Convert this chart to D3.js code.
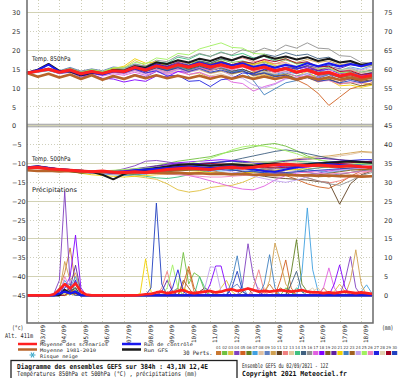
<!DOCTYPE html>
<html>
<head>
<meta charset="utf-8">
<script src="https://cdn.jsdelivr.net/npm/d3@7"></script>
<style>
  body { margin: 0; background: #fff; }
  svg { display: block; }
</style>
</head>
<body>
<svg id="chart" width="400" height="378"></svg>
<script>
// ---- data (12h steps for temperatures, 6h steps for precipitation) ----
var dateLabels = ['03/09','04/09','05/09','06/09','07/09','08/09','09/09','10/09',
  '11/09','12/09','13/09','14/09','15/09','16/09','17/09','18/09'];

var memberColors = ['#c87832','#70c040','#e0c040','#8040c0','#d06020','#608020','#40a0e0','#e0c0a0',
  '#6080c0','#d0a050','#604020','#f08080','#e0c8a0','#40c080','#406080','#909090','#e060e0','#8000ff',
  '#806020','#6020a0','#f0d000','#4080c0','#a06020','#c0a0f0','#a0f060','#f080c0','#2020e0','#e0d0b0',
  '#a00020','#2040c0'];

var t850Mean = [14.0,14.5,15.0,14.2,14.8,13.8,14.4,13.9,14.6,14.4,15.5, 14.8,15.9,15.3,16.2,15.6,16.4,15.6,16.2,15.4,16.0,15.0, 15.6,14.6,15.2,14.2,14.8,13.8,14.2,13.2,13.8,12.9,13.4];
var t850Clim = [14.0,13.0,13.8,12.8,13.6,12.4,13.4,12.2,13.2,12.4,13.4, 12.6,13.4,12.6,13.3,12.6,13.3,12.5,13.2,12.5,13.2,12.4, 13.1,12.4,13.0,12.3,13.0,12.3,12.9,12.2,12.8,12.2,12.8];
var t850Ctrl = [14.0,14.8,16.2,14.4,14.6,13.6,14.2,13.6,14.4,14.4,15.6, 15.0,16.2,15.6,16.4,15.8,16.8,16.0,16.8,16.0,16.6,15.6, 16.2,15.4,16.2,15.6,16.6,15.8,16.6,15.8,16.4,15.8,16.6];
var t850Gfs = [14.0,14.9,16.4,14.6,14.4,13.4,14.0,13.8,14.8,14.6,15.8, 15.4,16.8,16.4,17.4,16.8,17.8,17.2,18.2,17.4,18.4,17.6, 18.6,17.8,18.4,17.6,18.2,17.2,17.8,16.8,17.2,16.2,16.6];
var t850Members = [
  [14.1,14.6,15.2,14.0,14.6,13.5,14.1,13.5,14.8,14.9,16.2, 15.4,16.8,15.8,16.9,15.5,16.0,14.8,15.2,14.0,14.6,13.2, 13.8,12.6,13.0,12.0,12.8,11.6,12.4,11.5,12.6,12.0,12.8],
  [14.0,14.4,14.9,14.5,15.3,14.2,14.9,14.2,15.2,14.8,15.9, 15.5,16.8,16.2,17.4,16.5,17.2,16.6,17.6,16.8,17.2,16.4, 16.8,15.9,16.3,15.2,15.8,14.6,15.0,14.0,14.4,13.5,13.6],
  [13.9,14.3,14.7,14.1,14.6,13.9,14.5,14.1,15.0,15.4,17.3, 16.0,16.4,15.0,15.4,13.6,14.0,12.6,13.0,12.4,13.2,12.8, 13.5,13.0,13.8,13.2,14.4,13.6,14.2,13.0,13.4,11.4,11.0],
  [14.2,14.4,14.8,13.8,14.2,12.9,13.4,12.2,12.8,12.6,13.6, 13.0,14.4,14.0,15.0,14.6,15.6,15.4,16.6,16.0,16.9,15.9, 16.4,15.0,15.4,14.0,14.6,13.4,13.6,12.0,12.4,11.6,12.0],
  [14.0,14.5,15.1,14.4,15.2,14.2,14.6,14.0,14.8,14.2,15.0, 14.2,15.2,14.7,15.6,15.0,16.0,15.4,16.4,15.4,16.0,14.4, 14.8,13.2,13.4,12.2,10.8,8.6,5.4,7.6,9.8,10.6,11.4],
  [14.1,14.5,15.0,14.3,15.1,14.0,14.6,14.2,15.0,14.6,15.6, 15.0,16.2,15.6,16.6,16.0,17.0,16.4,17.2,16.2,16.8,15.8, 16.4,15.6,16.2,15.2,15.8,14.8,15.4,14.6,15.0,14.2,14.8],
  [13.8,14.2,14.6,13.9,14.4,13.4,14.0,13.4,14.2,13.8,14.8, 14.0,15.0,14.4,15.4,14.8,15.8,15.0,15.6,14.4,15.0,13.8, 14.4,13.6,14.4,13.8,14.8,14.2,15.2,14.6,15.6,15.0,16.0],
  [14.0,14.4,15.0,14.2,14.9,13.8,14.4,13.6,14.2,13.8,14.6, 13.8,14.6,13.8,14.6,13.6,14.2,13.2,13.8,12.8,13.4,12.4, 13.0,12.2,13.0,12.4,13.4,12.8,13.8,13.2,14.0,13.4,14.2],
  [14.2,14.7,15.3,14.6,15.5,14.5,15.1,14.6,15.6,15.3,16.4, 15.8,17.0,16.4,17.2,16.2,16.6,15.4,15.8,14.6,15.0,13.8, 14.2,13.4,14.0,13.2,13.8,13.0,13.6,12.8,13.4,12.6,13.2],
  [14.0,14.6,15.1,14.2,14.8,13.6,14.2,13.6,14.4,14.2,15.4, 14.8,16.0,15.2,16.2,15.4,16.4,15.8,16.8,16.0,16.8,16.2, 17.0,16.4,17.4,16.8,17.6,16.8,17.2,16.2,16.6,15.6,16.0],
  [14.1,14.5,15.0,14.1,14.7,13.7,14.3,13.8,14.5,14.1,15.1, 14.4,15.6,14.8,15.8,15.0,15.8,14.8,15.4,14.4,15.0,14.0, 14.8,14.2,15.0,14.4,15.2,14.2,14.4,12.8,12.4,11.8,12.2],
  [13.9,14.4,14.9,14.2,14.9,13.9,14.5,13.9,14.6,14.4,15.6, 15.0,16.4,15.8,17.0,16.6,17.8,17.2,18.2,17.4,18.0,17.0, 17.4,16.4,16.8,15.6,16.0,15.0,15.4,14.4,14.8,14.0,14.6],
  [14.0,14.5,15.0,14.3,14.9,13.8,14.3,13.7,14.3,13.9,14.9, 14.2,15.2,14.4,15.2,14.2,14.8,13.8,14.4,13.6,14.4,13.6, 14.4,13.8,14.8,14.2,15.2,14.6,15.4,14.8,15.4,14.6,15.0],
  [14.2,14.6,15.1,14.4,15.1,14.1,14.7,14.1,14.9,14.7,15.8, 15.4,17.0,16.6,18.2,17.6,19.0,18.4,19.6,18.6,19.2,18.0, 18.4,17.2,17.6,16.4,16.8,15.6,16.0,14.8,15.2,14.2,14.6],
  [14.0,14.4,14.9,14.3,14.9,14.0,14.6,14.0,14.8,14.4,15.4, 14.8,16.0,15.4,16.6,16.0,17.2,16.6,17.8,17.2,18.4,17.8, 19.0,18.4,19.4,18.6,19.0,17.8,18.2,16.8,17.0,15.8,16.2],
  [14.1,14.6,15.2,14.5,15.3,14.4,15.0,14.4,15.3,15.0,16.2, 15.8,17.4,17.0,18.6,18.0,19.2,18.4,19.4,18.8,20.2,19.4, 20.6,19.8,21.4,20.6,22.0,20.6,20.4,18.6,18.4,16.8,16.6],
  [13.9,14.3,14.8,14.0,14.5,13.4,13.9,13.2,13.8,13.4,14.2, 13.4,14.4,13.6,14.4,13.6,14.2,13.0,13.2,11.6,11.2,9.2, 10.4,11.2,12.6,12.4,13.4,12.8,13.6,13.0,13.8,13.2,14.0],
  [14.0,14.5,14.9,14.0,14.4,13.2,13.6,12.6,12.4,11.6,12.2, 11.8,13.2,13.0,14.4,14.2,15.4,15.0,16.2,15.6,16.4,15.6, 16.2,15.4,16.0,15.0,15.6,14.6,15.0,13.8,14.2,13.4,13.8],
  [14.1,14.5,15.0,14.2,14.8,13.7,14.2,13.6,14.3,14.0,15.1, 14.4,15.4,14.6,15.4,14.4,15.0,14.0,14.6,13.8,14.4,13.6, 14.0,13.2,13.6,12.6,13.0,12.0,12.4,11.2,11.4,10.6,11.0],
  [14.0,14.6,15.2,14.4,15.0,14.0,14.6,14.0,14.8,14.6,15.8, 15.2,16.4,15.8,16.8,16.0,16.8,15.8,16.4,15.4,16.2,15.2, 15.8,14.8,15.4,14.4,15.2,14.6,15.6,15.2,16.2,15.8,16.8],
  [14.0,14.4,14.9,14.1,14.7,13.7,14.4,14.0,15.2,15.8,17.8, 16.6,17.0,15.6,16.0,14.6,15.2,14.6,15.8,15.4,16.8,16.2, 17.2,16.0,16.2,14.6,14.4,12.4,12.2,10.6,10.8,10.2,10.8],
  [14.1,14.5,14.9,14.2,14.8,13.8,14.4,13.8,14.6,14.3,15.3, 14.6,15.6,14.8,15.8,14.8,15.6,14.6,15.4,14.2,14.8,12.0, 8.2,9.8,11.4,12.0,13.0,12.6,13.6,13.2,14.0,13.6,14.2],
  [14.0,14.5,15.0,14.3,15.0,14.0,14.6,14.0,14.7,14.4,15.4, 14.8,15.8,15.0,16.0,15.2,16.0,15.2,16.0,15.2,15.8,14.8, 15.4,14.4,15.0,14.0,14.6,13.4,13.8,12.8,13.2,12.4,12.8],
  [14.0,14.4,14.8,14.0,14.6,13.6,14.2,13.6,14.2,13.8,14.6, 13.8,14.8,14.0,15.0,14.2,15.0,14.2,14.8,13.2,12.6,10.8, 10.0,11.0,12.4,12.8,14.0,13.8,14.8,14.4,15.2,14.8,15.6],
  [14.1,14.6,15.1,14.4,15.2,14.2,14.9,14.4,15.4,15.4,16.8, 16.4,18.0,17.6,19.2,18.8,20.4,21.2,22.0,20.8,20.6,19.2, 19.0,17.6,17.8,16.4,16.6,15.2,15.4,14.0,14.2,13.0,13.4],
  [14.0,14.5,15.0,14.2,14.8,13.8,14.3,13.6,14.2,13.8,14.8, 14.0,15.0,14.2,15.2,14.4,15.4,14.6,15.6,14.8,15.6,14.6, 15.2,14.0,14.4,13.0,13.2,11.8,12.0,11.0,11.6,11.2,12.0],
  [14.1,14.5,15.0,14.3,14.9,13.9,14.4,13.8,14.5,14.0,15.0, 14.0,14.6,13.2,13.4,11.8,12.0,10.4,12.2,12.6,14.0,13.8, 15.0,14.6,15.6,15.0,16.0,15.4,16.2,15.6,16.4,15.8,16.6],
  [14.0,14.4,15.0,14.2,14.9,13.9,14.5,14.0,14.8,14.5,15.6, 15.0,16.2,15.6,16.6,15.8,16.6,15.8,16.6,15.8,16.6,15.8, 16.6,15.8,16.6,15.8,16.4,15.4,15.8,14.8,15.0,14.2,14.4],
  [14.0,14.5,15.0,14.2,14.8,13.8,14.4,13.8,14.6,14.2,15.2, 14.6,15.8,15.2,16.4,15.8,16.8,16.2,17.0,16.2,17.0,16.6, 17.6,17.0,17.8,16.6,17.0,15.6,15.8,14.4,14.6,13.6,14.0],
  [14.1,14.6,15.1,14.3,15.0,14.0,14.5,13.9,14.6,14.2,15.2, 14.4,15.4,14.6,15.4,14.4,15.2,14.2,14.8,14.0,14.6,13.4, 14.0,13.0,13.4,12.4,12.8,11.8,12.2,11.4,12.0,11.4,12.0]
];

var t500Mean = [-11.2,-11.0,-11.4,-11.6,-11.8,-12.0,-12.2,-12.0,-12.3,-12.4,-12.2, -12.4,-12.0,-11.6,-11.4,-11.2,-11.4,-11.6,-11.2,-11.0,-11.3,-11.0, -10.6,-10.4,-10.2,-10.4,-10.6,-10.4,-10.6,-10.8,-10.6,-10.9,-11.0];
var t500Clim = [-11.8,-12.0,-11.9,-12.1,-12.0,-12.2,-12.1,-12.3,-12.2,-12.4,-12.3, -12.5,-12.4,-12.6,-12.5,-12.7,-12.6,-12.8,-12.7,-12.9,-12.8,-13.0, -12.9,-13.1,-13.0,-13.2,-13.1,-13.3,-13.2,-13.4,-13.3,-13.5,-13.4];
var t500Ctrl = [-11.0,-10.8,-11.2,-11.6,-11.8,-12.2,-12.0,-12.2,-12.4,-12.2,-11.8, -11.6,-11.4,-11.2,-11.0,-10.8,-11.0,-11.2,-11.0,-10.8,-11.2,-11.6, -12.0,-12.2,-11.6,-11.0,-10.6,-10.4,-10.2,-10.4,-10.6,-10.8,-11.0];
var t500Gfs = [-11.0,-10.8,-11.2,-11.6,-12.0,-12.4,-12.2,-13.0,-14.2,-12.8,-12.0, -11.6,-11.2,-10.8,-10.4,-10.2,-10.4,-10.6,-10.4,-10.2,-10.4,-10.6, -10.2,-10.0,-10.2,-10.4,-10.2,-10.0,-9.8,-9.6,-9.4,-9.6,-9.8];
var t500Members = [
  [-11.0,-10.8,-11.2,-11.6,-11.8,-12.2,-12.4,-12.0,-12.6,-12.8,-12.4, -12.6,-12.0,-11.4,-11.0,-10.8,-11.2,-11.8,-12.4,-12.8,-12.6,-12.2, -11.6,-11.0,-10.8,-11.4,-12.2,-13.0,-13.6,-13.0,-12.4,-11.8,-11.4],
  [-11.2,-11.2,-11.6,-11.4,-11.6,-11.8,-12.0,-12.2,-12.0,-12.2,-11.8, -11.4,-10.6,-10.0,-9.4,-9.0,-8.6,-8.2,-7.4,-6.8,-6.2,-5.6, -5.0,-4.7,-5.4,-6.6,-8.0,-9.0,-9.6,-10.2,-10.6,-11.0,-11.2],
  [-11.4,-11.0,-11.4,-11.8,-12.0,-12.2,-12.4,-12.6,-12.8,-13.0,-13.4, -13.8,-14.2,-15.4,-17.0,-17.6,-17.2,-16.4,-16.0,-15.8,-15.0,-13.8, -12.6,-11.8,-11.2,-11.0,-10.8,-10.6,-10.8,-11.0,-11.2,-11.0,-10.8],
  [-11.0,-10.6,-11.0,-11.4,-11.6,-12.0,-12.4,-12.2,-12.0,-11.4,-10.6, -9.4,-9.2,-9.6,-10.0,-10.4,-10.2,-10.0,-9.8,-10.2,-10.8,-11.4, -12.0,-12.4,-12.8,-13.2,-13.0,-12.6,-12.0,-11.6,-11.2,-11.0,-10.6],
  [-11.2,-11.2,-11.4,-11.8,-12.0,-12.4,-12.6,-12.4,-12.6,-12.6,-12.4, -12.2,-12.0,-12.0,-11.8,-11.8,-11.6,-11.2,-10.8,-10.4,-10.2,-10.6, -11.2,-12.2,-13.2,-14.2,-15.4,-16.2,-16.6,-15.2,-13.4,-12.0,-11.0],
  [-11.0,-11.0,-11.4,-11.6,-11.8,-11.8,-12.0,-12.2,-12.4,-12.4,-12.2, -12.0,-11.6,-11.2,-10.8,-10.6,-10.6,-10.4,-10.2,-10.0,-9.8,-9.6, -9.6,-9.8,-10.0,-10.2,-10.4,-10.2,-10.0,-9.8,-9.6,-9.8,-10.0],
  [-11.2,-11.0,-11.6,-11.8,-12.2,-12.4,-12.6,-12.8,-13.0,-13.2,-13.0, -12.8,-12.4,-12.0,-11.6,-11.4,-11.6,-11.8,-12.0,-11.8,-11.4,-11.0, -10.6,-10.4,-10.6,-11.0,-11.6,-12.0,-12.4,-12.0,-11.6,-11.2,-11.0],
  [-11.0,-11.2,-11.4,-11.6,-11.8,-12.0,-12.0,-12.0,-12.2,-12.2,-12.0, -11.8,-11.6,-11.4,-11.2,-11.2,-11.0,-10.8,-10.6,-10.4,-10.2,-10.0, -9.8,-9.6,-9.4,-9.2,-9.0,-8.8,-8.4,-8.0,-7.6,-7.0,-7.2],
  [-11.2,-11.0,-11.4,-11.8,-12.0,-12.2,-12.2,-12.4,-12.6,-12.6,-12.2, -11.8,-11.4,-11.2,-11.2,-11.4,-11.8,-12.2,-12.6,-12.6,-12.2,-11.8, -11.4,-11.2,-11.4,-11.8,-12.4,-12.8,-13.2,-12.8,-12.4,-12.0,-11.6],
  [-11.4,-11.2,-11.6,-11.8,-12.0,-12.2,-12.4,-12.4,-12.2,-12.0,-11.8, -11.6,-11.2,-10.8,-10.4,-10.2,-10.0,-9.8,-9.6,-9.4,-9.4,-9.6, -9.8,-9.6,-9.2,-8.8,-8.4,-8.2,-8.0,-7.6,-7.2,-6.8,-7.0],
  [-11.0,-11.0,-11.4,-11.6,-11.8,-12.0,-12.2,-12.4,-12.6,-12.6,-12.4, -12.2,-12.0,-11.8,-11.6,-11.4,-11.2,-11.0,-11.2,-11.6,-12.2,-13.0, -13.4,-13.8,-14.0,-14.2,-14.4,-14.8,-15.0,-20.8,-15.4,-13.0,-12.0],
  [-11.2,-11.4,-11.6,-11.8,-12.0,-12.2,-12.4,-12.6,-12.8,-12.8,-12.6, -12.4,-12.0,-11.6,-11.2,-10.8,-10.6,-10.4,-10.2,-10.2,-10.4,-10.8, -11.2,-11.8,-12.4,-13.0,-13.8,-14.6,-15.2,-14.6,-13.6,-12.6,-12.0],
  [-11.0,-11.2,-11.2,-11.4,-11.6,-11.8,-12.0,-12.2,-12.2,-12.2,-12.0, -11.8,-11.8,-11.6,-11.6,-11.4,-11.4,-11.2,-11.2,-11.0,-10.8,-10.6, -10.4,-10.2,-10.0,-9.8,-9.6,-9.8,-10.0,-10.2,-10.4,-10.2,-10.0],
  [-11.2,-11.0,-11.4,-11.6,-11.8,-12.0,-12.2,-12.2,-12.4,-12.6,-13.0, -13.4,-13.8,-14.0,-13.6,-13.0,-12.4,-11.8,-11.4,-11.0,-10.6,-10.2, -9.8,-9.4,-9.2,-9.4,-9.6,-9.8,-10.0,-10.2,-10.4,-10.2,-10.2],
  [-11.0,-11.2,-11.4,-11.6,-11.8,-12.0,-12.0,-12.2,-12.4,-12.4,-12.2, -12.0,-11.8,-11.6,-11.2,-10.8,-10.4,-10.0,-9.6,-9.2,-8.6,-8.0, -7.4,-6.8,-6.4,-6.8,-7.4,-8.0,-8.6,-9.0,-9.4,-9.6,-9.8],
  [-11.2,-11.0,-11.4,-11.8,-12.0,-12.2,-12.4,-12.6,-12.6,-12.4,-12.2, -12.0,-11.8,-11.6,-11.4,-11.2,-11.0,-10.8,-10.6,-10.6,-10.8,-11.0, -11.4,-11.8,-12.4,-13.0,-13.8,-14.6,-15.4,-15.8,-14.6,-13.2,-12.4],
  [-11.0,-11.0,-11.2,-11.4,-11.8,-12.0,-12.2,-12.4,-12.4,-12.4,-12.2, -12.0,-12.0,-12.2,-12.6,-13.2,-13.8,-14.6,-15.4,-16.2,-16.8,-17.0, -16.0,-14.4,-13.2,-12.6,-12.2,-12.0,-11.8,-11.6,-11.4,-11.2,-11.0],
  [-11.2,-11.2,-11.4,-11.6,-11.8,-12.0,-12.2,-12.2,-12.2,-12.0,-11.6, -11.2,-10.8,-10.2,-9.8,-9.6,-9.4,-9.2,-9.0,-9.2,-9.4,-9.8, -10.2,-10.6,-11.0,-11.2,-11.0,-10.6,-10.2,-10.0,-9.8,-9.6,-9.4],
  [-11.0,-11.2,-11.4,-11.6,-11.8,-12.0,-12.2,-12.4,-12.6,-12.8,-12.8, -12.6,-12.4,-12.2,-12.0,-11.8,-11.8,-11.6,-11.4,-11.2,-11.2,-11.4, -11.8,-12.2,-12.6,-13.0,-13.2,-13.0,-12.6,-12.2,-11.8,-11.6,-11.4],
  [-11.2,-11.0,-11.2,-11.4,-11.6,-11.8,-12.0,-12.2,-12.0,-11.8,-11.4, -11.0,-10.6,-10.4,-10.2,-10.0,-10.0,-10.2,-10.4,-10.6,-10.8,-10.6, -10.2,-9.8,-9.4,-9.0,-8.8,-8.6,-8.8,-9.0,-9.2,-9.4,-9.6],
  [-11.4,-11.2,-11.4,-11.8,-12.2,-12.6,-13.0,-13.2,-13.4,-13.6,-13.4, -13.2,-13.0,-12.8,-12.6,-12.4,-12.2,-12.4,-12.6,-12.8,-12.6,-12.4, -12.2,-12.0,-11.8,-11.6,-11.4,-11.2,-11.0,-10.8,-10.6,-10.8,-11.0],
  [-11.0,-11.2,-11.4,-11.6,-11.8,-12.0,-12.2,-12.4,-12.4,-12.4,-12.2, -12.0,-11.8,-11.4,-11.0,-10.6,-10.4,-10.2,-10.4,-10.8,-11.2,-12.0, -12.6,-13.0,-12.8,-12.2,-11.6,-11.2,-10.8,-10.6,-10.4,-10.2,-10.0],
  [-11.2,-11.2,-11.4,-11.6,-11.8,-12.0,-12.0,-12.2,-12.4,-12.4,-12.4, -12.2,-12.2,-12.0,-11.8,-11.6,-11.4,-11.2,-11.0,-10.8,-10.6,-10.4, -10.2,-10.0,-10.2,-10.4,-10.6,-10.8,-11.0,-11.2,-11.4,-11.6,-11.8],
  [-11.0,-11.0,-11.2,-11.6,-12.0,-12.2,-12.4,-12.6,-12.8,-12.6,-12.2, -11.8,-11.4,-11.0,-10.8,-10.6,-10.8,-11.2,-11.6,-12.2,-12.8,-13.4, -14.0,-14.6,-15.0,-14.4,-13.6,-12.8,-12.2,-11.8,-11.4,-11.2,-11.0],
  [-11.2,-11.0,-11.4,-11.6,-11.8,-12.0,-12.2,-12.0,-11.8,-11.6,-11.4, -11.2,-11.0,-10.8,-10.4,-10.0,-9.4,-8.6,-7.6,-6.4,-5.6,-5.2, -5.4,-6.0,-6.6,-7.4,-8.4,-9.0,-9.4,-9.6,-9.8,-10.0,-10.2],
  [-11.0,-11.2,-11.4,-11.6,-11.8,-12.0,-12.2,-12.2,-12.4,-12.4,-12.6, -12.6,-12.8,-12.8,-13.0,-13.2,-13.4,-13.6,-13.6,-13.4,-13.2,-13.0, -12.8,-12.6,-12.4,-12.2,-12.4,-12.6,-12.8,-12.6,-12.4,-12.2,-12.0],
  [-11.2,-11.0,-11.4,-11.6,-11.8,-12.0,-12.2,-12.4,-12.6,-12.4,-12.0, -11.6,-11.2,-10.8,-10.4,-10.2,-10.0,-9.8,-9.6,-9.4,-9.6,-9.8, -10.0,-10.2,-10.4,-10.2,-10.0,-9.8,-9.6,-9.4,-9.2,-9.0,-9.0],
  [-11.0,-11.2,-11.4,-11.6,-11.8,-12.0,-12.2,-12.2,-12.2,-12.2,-12.0, -11.8,-11.6,-11.4,-11.2,-11.0,-10.8,-10.6,-10.4,-10.2,-10.0,-9.8, -9.6,-9.6,-9.8,-10.0,-10.2,-10.4,-10.6,-10.8,-11.0,-11.0,-11.0],
  [-11.2,-11.2,-11.4,-11.6,-11.8,-12.0,-12.2,-12.4,-12.4,-12.2,-12.0, -11.8,-11.6,-11.2,-10.8,-10.4,-10.2,-10.0,-10.2,-10.4,-10.6,-10.8, -11.0,-11.2,-11.0,-10.8,-10.6,-10.4,-10.2,-10.0,-9.8,-9.6,-9.4],
  [-11.0,-11.0,-11.2,-11.4,-11.6,-11.8,-12.0,-12.2,-12.4,-12.4,-12.2, -12.0,-11.8,-11.6,-11.4,-11.2,-11.2,-11.4,-11.6,-11.8,-12.0,-12.2, -12.4,-12.6,-12.4,-12.2,-12.0,-11.8,-11.6,-11.4,-11.2,-11.0,-11.0]
];

// precipitation in mm per 6h, 65 steps
var precipMean = [0,0,0,0,0,0.3,1.5,3.0,1.8,3.2,1.0,0.2,0, 0,0,0,0,0,0,0,0,0.1,0.3,0.4,0.8,1.0, 0.6,0.8,1.2,1.4,0.8,0.6,0.8,1.0,1.2,0.8,1.0,1.4,1.6, 1.2,1.4,1.8,1.4,1.0,1.2,1.0,1.2,1.4,1.2,1.0,1.2,1.4, 1.0,0.8,0.8,0.6,0.8,0.6,0.8,1.0,0.8,0.6,0.8,0.6,0.4];
var precipCtrl = [0,0,0,0,0,0,0.5,1,0.5,1,0,0,0, 0,0,0,0,0,0,0,0,0,0,0,0,0, 0,0,0,0,0,0,0,0,0,0,0,0,0, 0,0,0,0,0,0,0,0,0,0,0,0,0, 0,0,0,0,0,0,0,0,0,0,0,0,0];
var precipGfs = [0,0,0,0,0,0,0,1.5,0.5,1,0,0,0, 0,0,0,0,0,0,0,0,0,0,0,0,0, 0,0,0,0,0,0,0,0,0,0,0,0,0, 0,0,0,0,0,0,0,0,0,0,0,0,0, 0,0,0,0,0,0,0,0,0,0,0,0,0];
var precipMembers = [
  [0,0,0,0,0,0,2,6,12.6,3,0.5,0,0, 0,0,0,0,0,0,0,0,0,0,0,0,0, 0,0,0,0,6.8,1,0,0,0,0,0,0,0, 0,0,0,0,0,1,3,1,0,0,0,0,0, 0,0,0,2,0.5,0,0,0,0,0,0,0,0],
  [0,0,0,0,0,0,0,1,2,1,0,0,0, 0,0,0,0,0,0,0,0,0,0,0,0,0, 0,0,2,11.4,3,6,5,1,0,0,0,0,0, 0,0,0,0,0,0,0,0,0,2,1,0,0, 0,0,0,0,0,0,0,0,0,0,0,0,0],
  [0,0,0,0,0,0,0,0.5,1,0,0,0,0, 0,0,0,0,0,0,0,0,0,0,0,0,0, 0,0,0,0,0,0,0,0,0,0,2,4,1, 0,0,0,0,0,0,0,0,0,0,0,0,0, 0,0,0,0,0,1,3,1,0,0,0,0,0],
  [0,0,0,0,0,0.5,4,27.6,3,1,0,0,0, 0,0,0,0,0,0,0,0,0,0,0,0,0, 0,0,0,0,0,0,0,0,0,0,0,0,0, 0,3,13.7,5,1,0,0,0,0,0,0,0,0, 0,0,0,0,0,0,0,4,10.3,2,0,0,0],
  [0,0,0,0,0,0,0,1,2,0,0,0,0, 0,0,0,0,0,0,0,0,0,0,0,0,0, 0,0,0,3,7.7,2,0,0,0,0,0,0,0, 0,0,0,0,0,0,0,0,4,9.4,2,0,0, 0,0,0,0,0,0,0,0,0,0,0,0,0],
  [0,0,0,0,0,0,0,0,1,2,0,0,0, 0,0,0,0,0,0,0,0,0,0,0,0,0, 0,0,0,0,0,0,0,0,0,0,0,0,0, 0,0,0,0,0,0,0,0,0,0,6,14.8,3, 1,0,0,0,0,0,0,0,0,0,0,0,0],
  [0,0,0,0,0,0,1,4,2,5,1,0,0, 0,0,0,0,0,0,0,0,0,0,0,0,0, 0,0,0,0,0,0,0,0,0,0,0,0,0, 0,0,0,0,0,0,0,0,0,0,0,0,6, 23.2,6.8,1,0,0,0,0,0,0,0,1,2.8,0.5],
  [0,0,0,0,0,0,0,1,1.5,0,0,0,0, 0,0,0,0,0,0,0,0,0,0,0,0,0, 0,0,0,0,0,0,0,0,0,0,0,0,0, 0,0,0,0,0,2,1,0,0,0,0,0,0, 0,0,0,0,0,0,0,0,0,0,0,0,0],
  [0,0,0,0,0,0,2,3,3,2,0,0,0, 0,0,0,0,0,0,0,0,0,0,0,0,0, 0,0,0,0,0,0,0,0,0,0,0,0,2, 3,1,0,0,0,0,0,0,0,0,0,0,0, 0,0,0,0,0,0,0,0,0,0,0,0,0],
  [0,0,0,0,0,0,1,9,4,6,1,0,0, 0,0,0,0,0,0,0,0,0,0,0,0,0, 0,0,0,0,0,0,0,0,0,0,0,0,0, 0,0,0,0,0,0,4,13.9,8.7,3,1,0,0, 0,0,0,0,0,0,0,0,4,12.1,3,0,0],
  [0,0,0,0,0,0,0,1.5,1,2,0,0,0, 0,0,0,0,0,0,0,0,0,0,0,0,0, 0,0,0,0,0,0,1,2,1,0,0,0,0, 0,0,0,0,0,0,0,0,0,0,0,0,0, 0,0,0,0,0,0,0,0,0,0,0,0,0],
  [0,0,0,0,0,0,0,0,1,1,0,0,0, 0,0,0,0,0,0,0,0,0,0,0,0,2, 6.4,1,0,0,0,0,0,0,0,0,0,0,0, 0,0,0,2,6.8,1,0,0,0,0,0,0,0, 0,0,0,0,0,0,0,0,0,0,0,0,0],
  [0,0,0,0,0,0,0,3,2,3,0,0,0, 0,0,0,0,0,0,0,0,0,0,0,0,0, 0,0,0,0,0,0,0,0,0,0,0,0,0, 0,0,0,0,0,0,0,0,0,0,0,0,0, 0,1,2,0,0,0,0,0,0,0,0,0,0],
  [0,0,0,0,0,0,0,2,3,1.5,0,0,0, 0,0,0,0,0,0,0,0,0,0,0,0,0, 0,0,0,0,0,0,5,2,0,0,0,0,0, 0,0,0,0,0,0,0,0,0,0,0,2,1, 0,0,0,0,0,0,0,0,0,0,0,0,0],
  [0,0,0,0,0,0,0,0,1,0,0,0,0, 0,0,0,0,0,0,0,0,0,0,0,0,0, 0,0,0,0,0,0,0,0,0,0,0,0,0, 0,0,0,0,0,0,0,0,0,0,3,6.4,1, 0,0,0,0,0,0,0,0,0,0,0,0,0],
  [0,0,0,0,0,0,0,0,0.5,0,0,0,0, 0,0,0,0,0,0,0,0,0,0,0,0,0, 0,1,2,0,0,0,0,0,0,0,0,0,0, 0,0,0,0,0,0,0,0,0,0,0,0,0, 0,0,0,0,0,0,0,0,0,0,0,0,0],
  [0,0,0,0,0,0,0,1,0.5,0,0,0,0, 0,0,0,0,0,0,0,0,0,0,0,0,0, 0,0,0,0,0,0,0,0,0,0,0,0,0, 0,0,0,0,0,0,0,0,0,0,0,0,0, 0,0,0,2,7.3,2,0,0,0,0,0,0,0],
  [0,0,0,0,0,0,0,2,5,16,2,0,0, 0,0,0,0,0,0,0,0,0,0,0,0,0, 0,0,0,0,0,0,0,0,3,7.8,7.8,2,0, 0,0,0,0,0,0,0,0,0,0,0,0,0, 0,0,0,0,0,3,8.1,2,0,0,0,0,0],
  [0,0,0,0,0,0,0,0,1,0.5,0,0,0, 0,0,0,0,0,0,0,0,0,0,0,0,0, 0,0,0,0,0,0,0,0,0,0,0,0,0, 0,1,2,0,0,0,0,0,0,0,0,0,0, 0,0,0,0,0,0,0,0,0,0,0,0,0],
  [0,0,0,0,0,0,1,3,2,8,1,0,0, 0,0,0,0,0,0,0,0,0,0,0,0,1, 4,1,0,0,0,0,0,0,0,0,0,0,0, 0,0,0,0,0,0,0,0,0,0,0,0,0, 0,0,0,0,0,0,0,0,0,0,0,0,0],
  [0,0,0,0,0,0,0,0,0.5,0,0,0,0, 0,0,0,0,0,0,0,0,0.5,9.7,1,0,0, 0,0,0,2,1,0,0,0,0,0,0,0,0, 0,0,0,0,0,0,0,0,0,0,0,0,0, 0,0,0,0,0,0,0,0,0,0,0,0,0],
  [0,0,0,0,0,0,0,1,1,0,0,0,0, 0,0,0,0,0,0,0,0,0,0,0,0,0, 0,0,0,0,0,0,0,0,0,0,0,0,4, 10.5,2,0,0,0,3,10.8,2,0,0,0,0,0, 0,0,0,0,0,0,0,0,0,0,0,0,0],
  [0,0,0,0,0,0,0,0,1.5,1,0,0,0, 0,0,0,0,0,0,0,0,0,0,0,0,0, 0,0,0,4,2,0,0,0,0,0,0,0,0, 0,0,0,0,0,0,0,0,2,1,0,0,0, 0,0,0,0,0,0,0,0,0,0,0,0,0],
  [0,0,0,0,0,0,0,1,1,0,0,0,0, 0,0,0,0,0,0,0,0,0,0,0,0,0, 0,0,0,0,0,0,0,2,7.6,7.4,1,0,0, 0,0,0,0,0,0,0,0,0,0,0,0,0, 0,0,0,0,0,0,0,0,0,0,0,0,0],
  [0,0,0,0,0,0,0,0,1,0,0,0,0, 0,0,0,0,0,0,0,0,0,0,0,0,0, 2,8.1,2,0,0,0,0,0,0,0,0,0,0, 0,0,0,0,0,0,0,0,0,0,0,0,0, 0,0,0,0,0,0,0,0,0,0,0,0,0],
  [0,0,0,0,0,0,0,5,2,4,0,0,0, 0,0,0,0,0,0,0,0,0,0,0,0,0, 0,0,0,0,0,0,0,0,0,0,0,0,0, 0,0,0,1,2,0,0,0,0,0,0,0,0, 0,0,0,0,0,0,0,0,0,0,0,0,0],
  [0,0,0,0,0,0,0,3,1,4,0,0,0, 0,0,0,0,0,0,0,0,0,0,0,0,0, 0,2,6.8,1,0,0,0,0,0,0,0,0,0, 0,0,0,0,0,0,0,0,0,0,0,0,0, 0,0,0,0,0,0,0,0,0,0,0,0,0],
  [0,0,0,0,0,0,0,0,1,0,0,0,0, 0,0,0,0,0,0,0,0,0,0,0,0,0, 0,0,0,0,0,0,0,0,0,0,0,0,0, 0,0,0,0,0,0,0,0,0,0,0,0,0, 1,2,0,0,0,0,0,0,0,0,0,0,0],
  [0,0,0,0,0,0,0,0,1,0.5,0,0,0, 0,0,0,0,0,0,0,0,0,0,0,0,0, 0,0,0,0,0,0,0,0,0,0,0,0,0, 0,0,0,0,0,0,0,0,0,0,0,0,0, 0,0,0,0,0,0,0,0,0,0,0,0,0],
  [0,0,0,0,0,0,0,1,1,0,0,0,0, 0,0,0,0,0,0,0,0,0,0,2,24.5,3, 0,0,0,0,0,0,0,0,0,0,0,0,2, 6.4,1,0,0,0,0,0,0,0,0,0,0,0, 0,0,0,0,0,0,0,0,0,0,0,0,0]
];

// ---- scales ----
var svg = d3.select('#chart');
var plot = { left: 27, right: 373, top: 0, bottom: 323 };
var precipOffset = 45;   // precip 0 mm sits on the -45 line

var xScale = d3.scaleLinear().domain([0, 384]).range([27, 372]);
var yScale = d3.scaleLinear().domain([30, -45]).range([12.7, 295.4]);

var dayHours = dateLabels.map(function (d, i) { return 12 + 24 * i; });
var gridValues = d3.range(-45, 31, 5);

svg.append('rect').attr('width', 400).attr('height', 378).attr('fill', '#fff');

// ---- grids ----
var grid = svg.append('g');
gridValues.forEach(function (v) {
  grid.append('line')
    .attr('x1', plot.left).attr('x2', plot.right)
    .attr('y1', yScale(v)).attr('y2', yScale(v))
    .attr('stroke', v % 10 === 0 ? '#d2d2b4' : '#cfcfbc')
    .attr('stroke-dasharray', v % 10 === 0 ? null : '1,2')
    .attr('shape-rendering', 'crispEdges');
});
dayHours.forEach(function (h) {
  grid.append('line')
    .attr('x1', Math.round(xScale(h)) + 0.5).attr('x2', Math.round(xScale(h)) + 0.5)
    .attr('y1', plot.top).attr('y2', plot.bottom)
    .attr('stroke', '#cdcdb4')
    .attr('stroke-dasharray', '1,2');
});
// double separator between 850 and 500 panels
[-1.5, 1].forEach(function (o) {
  grid.append('line')
    .attr('x1', plot.left).attr('x2', plot.right)
    .attr('y1', yScale(0) + o).attr('y2', yScale(0) + o)
    .attr('stroke', '#9a9a9a').attr('stroke-width', 1);
});

// ---- series ----
var line12 = d3.line()
  .x(function (d, i) { return xScale(i * 12); })
  .y(function (d) { return yScale(d); });
var line6p = d3.line()
  .x(function (d, i) { return xScale(i * 6); })
  .y(function (d) { return yScale(d - precipOffset); });

var series = svg.append('g').attr('fill', 'none').attr('stroke-linejoin', 'round');

function drawLine(path, color, width) {
  series.append('path')
    .attr('d', path)
    .attr('stroke', color)
    .attr('stroke-width', width);
}

// members first
t850Members.forEach(function (m, i) { drawLine(line12(m), memberColors[i], 0.9); });
t500Members.forEach(function (m, i) { drawLine(line12(m), memberColors[i], 0.9); });
precipMembers.forEach(function (m, i) { drawLine(line6p(m), memberColors[i], 0.9); });

// GFS, control, climate, mean on top
drawLine(line12(t850Gfs), '#1a1a1a', 2);
drawLine(line12(t500Gfs), '#1a1a1a', 2);
drawLine(line6p(precipGfs), '#1a1a1a', 2);
drawLine(line12(t850Ctrl), '#1818ee', 2);
drawLine(line12(t500Ctrl), '#1818ee', 2);
drawLine(line6p(precipCtrl), '#1818ee', 2.2);
drawLine(line12(t850Clim), '#b8642a', 2.6);
drawLine(line12(t500Clim), '#b8642a', 2.6);
drawLine(line12(t850Mean), '#ff2020', 3);
drawLine(line12(t500Mean), '#ff2020', 3);
drawLine(line6p(precipMean), '#ff2020', 2.6);

// ---- frame ----
svg.append('path')
  .attr('d', 'M' + plot.left + ',' + plot.top + 'V' + plot.bottom + 'H' + plot.right + 'V' + plot.top)
  .attr('fill', 'none').attr('stroke', '#6a6a6a').attr('stroke-width', 1.5);

// ---- axes ----
var labelFont = '"DejaVu Sans", Verdana, sans-serif';
var monoFont = '"DejaVu Sans Mono", "Liberation Mono", monospace';

var leftAxis = d3.axisLeft(yScale).tickValues(gridValues).tickSize(0).tickPadding(0);
svg.append('g').attr('transform', 'translate(12,0)').call(leftAxis)
  .call(function (g) { g.select('.domain').remove(); })
  .attr('font-family', labelFont).attr('font-size', 6.5)
  .selectAll('text').attr('x', 0).attr('text-anchor', 'start').attr('fill', '#333');

var rightAxis = d3.axisRight(yScale).tickValues(gridValues).tickSize(0).tickPadding(0)
  .tickFormat(function (d) { return d + precipOffset; });
svg.append('g').attr('transform', 'translate(384,0)').call(rightAxis)
  .call(function (g) { g.select('.domain').remove(); })
  .attr('font-family', labelFont).attr('font-size', 6.5)
  .selectAll('text').attr('x', 0).attr('fill', '#333');

var dateAxis = d3.axisBottom(xScale).tickValues(dayHours).tickSize(0)
  .tickFormat(function (d, i) { return dateLabels[i]; });
svg.append('g').attr('transform', 'translate(0,325)').call(dateAxis)
  .call(function (g) { g.select('.domain').remove(); })
  .attr('font-family', monoFont).attr('font-size', 6)
  .selectAll('text')
  .attr('x', 0).attr('y', 0).attr('dy', 0)
  .attr('transform', 'translate(6.5,0) rotate(-90)')
  .attr('text-anchor', 'end')
  .attr('textLength', 18).attr('lengthAdjust', 'spacingAndGlyphs')
  .attr('fill', '#222');

// ---- texts ----
function label(x, y, str, len, opt) {
  opt = opt || {};
  return svg.append('text')
    .attr('x', x).attr('y', y)
    .attr('font-family', opt.font || monoFont)
    .attr('font-size', opt.size || 7)
    .attr('font-weight', opt.bold ? 'bold' : null)
    .attr('fill', opt.color || '#222')
    .attr('textLength', len).attr('lengthAdjust', 'spacingAndGlyphs')
    .text(str);
}

label(32, 60.5, 'Temp. 850hPa', 38.5, { font: labelFont, size: 6.5 });
label(32, 161, 'Temp. 500hPa', 38.5, { font: labelFont, size: 6.5 });
label(32, 191.5, 'Précipitations', 45, { font: labelFont, size: 6.5 });

label(12, 329.5, '(°c)', 11.5, { size: 6.5 });
label(5, 338, 'Alt. 411m', 28, { size: 6.5 });
label(382, 329.5, '(mm)', 11.5, { size: 6.5 });

// legend
var legendRows = [
  { x: 18, y: 344, color: '#ff2020', text: 'Moyenne des scénarios', len: 68 },
  { x: 18, y: 349.5, color: '#b8642a', text: 'Moyenne 1981-2010', len: 56 },
  { x: 122, y: 344, color: '#1818ee', text: 'Run de contrôle', len: 49 },
  { x: 122, y: 349.5, color: '#1a1a1a', text: 'Run GFS', len: 24 }
];
legendRows.forEach(function (r) {
  svg.append('line')
    .attr('x1', r.x).attr('x2', r.x + 19)
    .attr('y1', r.y).attr('y2', r.y)
    .attr('stroke', r.color).attr('stroke-width', 2.5);
  label(r.x + 22, r.y + 2.2, r.text, r.len, { size: 4.8 });
});

// snow risk icon
var flake = svg.append('g').attr('transform', 'translate(32.5,355)')
  .attr('stroke', '#3aa8c8').attr('stroke-width', 1);
[0, 60, 120].forEach(function (a) {
  flake.append('line').attr('x1', -3).attr('x2', 3).attr('y1', 0).attr('y2', 0)
    .attr('transform', 'rotate(' + a + ')');
});
label(40, 357.5, 'Risque neige', 38, { size: 4.8 });

label(183, 355, '30 Perts.', 29.5, { size: 6 });

// member colour boxes
var boxes = svg.append('g');
memberColors.forEach(function (c, i) {
  var bx = 216 + i * 6.07;
  boxes.append('text')
    .attr('x', bx + 2.6).attr('y', 348.5)
    .attr('text-anchor', 'middle')
    .attr('font-family', labelFont).attr('font-size', 4)
    .attr('textLength', 5).attr('lengthAdjust', 'spacingAndGlyphs')
    .attr('fill', '#444')
    .text(d3.format('02d')(i + 1));
  boxes.append('rect')
    .attr('x', bx).attr('y', 351)
    .attr('width', 5.2).attr('height', 4)
    .attr('fill', c);
});

// title box
svg.append('rect')
  .attr('x', 11).attr('y', 360.5)
  .attr('width', 226).attr('height', 22)
  .attr('fill', '#fff').attr('stroke', '#222').attr('stroke-width', 1.3);
label(17, 368.5, 'Diagramme des ensembles GEFS sur 384h : 43,1N 12,4E', 191, { bold: true, size: 7, color: '#111' });
label(17, 376, 'Températures 850hPa et 500hPa (°C) , précipitations (mm)', 180, { size: 6.5 });
label(242, 367.5, 'Ensemble GEFS du 02/09/2021 - 12Z', 86, { size: 6.5 });
label(242, 376, 'Copyright 2021 Meteociel.fr', 105, { bold: true, size: 7, color: '#111' });
</script>
</body>
</html>
